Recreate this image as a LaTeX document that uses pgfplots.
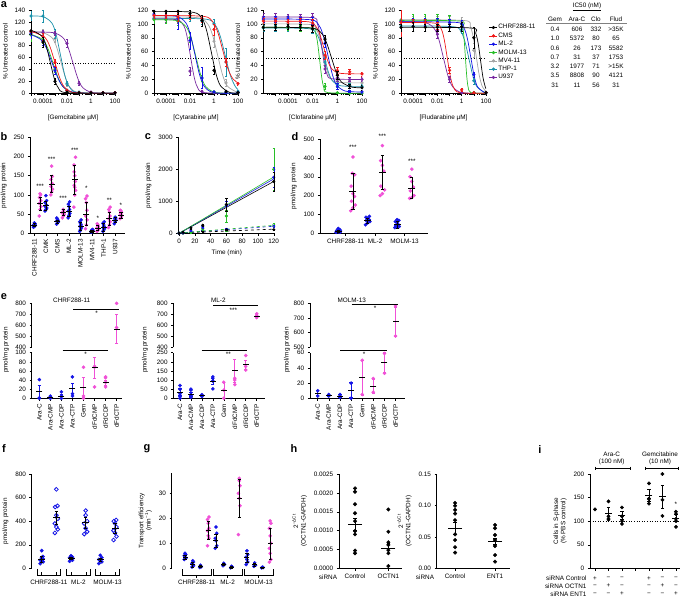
\documentclass[border=0pt]{standalone}
\usepackage{pgfplots}
\pgfplotsset{compat=1.18}
\usepackage{fontspec}
\setmainfont{Liberation Sans}
\newcommand{\fs}{\fontsize{6.4}{7.4}\selectfont}
\definecolor{cblack}{RGB}{0,0,0}
\definecolor{cred}{RGB}{240,25,25}
\definecolor{cblue}{RGB}{20,20,230}
\definecolor{cgreen}{RGB}{40,190,40}
\definecolor{cgray}{RGB}{165,165,165}
\definecolor{cteal}{RGB}{25,145,170}
\definecolor{cpurple}{RGB}{120,40,160}
\definecolor{cpink}{RGB}{240,80,215}
\pgfplotsset{
  base/.style={scale only axis, anchor=south west, axis x line*=bottom, axis y line*=left,
    tick align=outside, major tick length=2.2bp, minor tick length=1.3bp,
    every tick/.style={black, line width=0.45pt}, axis line style={line width=0.6pt},
    tick label style={font=\fs}, label style={font=\fs},
    /pgf/number format/assume math mode=true, /pgf/number format/1000 sep={},
    scaled ticks=false, clip mode=individual},
  cv/.style={line width=0.7pt, smooth, no markers},
  dp/.style={only marks, mark=*, mark size=1.4bp,
    /pgfplots/error bars/y dir=both, /pgfplots/error bars/y explicit,
    /pgfplots/error bars/error bar style={line width=0.45pt},
    /pgfplots/error bars/error mark options={rotate=90, mark size=1.2bp, line width=0.45pt}},
  ms/.style={only marks, mark=-, mark size=3bp, mark options={black, line width=0.7pt},
    /pgfplots/error bars/y dir=both, /pgfplots/error bars/y explicit,
    /pgfplots/error bars/error bar style={line width=0.6pt, #1},
    /pgfplots/error bars/error mark options={rotate=90, mark size=1.6bp, line width=0.6pt, #1}},
  ms/.default=black,
  pt/.style={only marks, mark=*, mark size=1.6bp, #1},
  logminor/.style={minor xtick={-5.699,-5.523,-5.398,-5.301,-5.222,-5.155,-5.097,-5.046,
    -4.699,-4.523,-4.398,-4.301,-4.222,-4.155,-4.097,-4.046,
    -3.699,-3.523,-3.398,-3.301,-3.222,-3.155,-3.097,-3.046,
    -2.699,-2.523,-2.398,-2.301,-2.222,-2.155,-2.097,-2.046,
    -1.699,-1.523,-1.398,-1.301,-1.222,-1.155,-1.097,-1.046,
    -0.699,-0.523,-0.398,-0.301,-0.222,-0.155,-0.097,-0.046,
    0.301,0.477,0.602,0.699,0.778,0.845,0.903,0.954,
    1.301,1.477,1.602,1.699,1.778,1.845,1.903,1.954}},
  apanel/.style={base, width=84bp, height=83.3bp, ymin=0, xmax=2,
    xtick={-4,-2,0,2}, xticklabels={0.0001,0.01,1,100},
    extra x ticks={-5,-3,-1,1}, extra x tick labels={}, logminor,
    ylabel={\% Untreated control}},
  legend image code/.code={\draw[#1, mark repeat=2, mark phase=2] plot coordinates {(0bp,0bp)(4bp,0bp)(8bp,0bp)};},
}
\begin{document}
\begin{tikzpicture}
\useasboundingbox (0,0) rectangle (685bp,-599bp);
% ---------------- a1 Gemcitabine
\begin{axis}[apanel, at={(31bp,-93.3bp)}, xmin=-5, ymax=140, ytick={0,20,...,140}, xlabel={[Gemcitabine µM]}]
\addplot[black, dotted, line width=0.6pt] coordinates {(-5,50)(2,50)};
\addplot[cv, cgray] coordinates {(-5,103)(-4.028,102)(-3.259,93.6)(-2.875,78.3)(-2.49,51.5)(-2.105,24.7)(-1.721,9.4)(-0.952,1.0)(2,0)};
\addplot[cv, cteal] coordinates {(-5,130)(-3.979,128.7)(-3.264,118.2)(-2.907,98.8)(-2.55,65)(-2.193,31.2)(-1.836,11.8)(-1.121,1.3)(2,0)};
\addplot[cv, cpurple] coordinates {(-5,103)(-3.177,102)(-2.343,93.6)(-1.927,78.3)(-1.51,51.5)(-1.093,24.7)(-0.677,9.4)(0.157,1.0)(2,0)};
\addplot[cv, cgreen] coordinates {(-5,99)(-4.059,90.9)(-3.605,76)(-3.15,50)(-2.695,24)(-2.241,9.1)(-1.332,1.0)(2,0)};
\addplot[cv, cblue] coordinates {(-5,98.4)(-4.22,90.9)(-3.72,76)(-3.22,50)(-2.72,24)(-2.22,9.1)(-1.22,1.0)(2,0)};
\addplot[cv, cred] coordinates {(-5,103)(-4.667,102)(-3.833,93.6)(-3.417,78.3)(-3.0,51.5)(-2.583,24.7)(-2.167,9.4)(-1.333,1.0)(2,0)};
\addplot[cv, cblack] coordinates {(-5,105)(-4.733,104)(-4.067,95.4)(-3.733,79.8)(-3.40,52.5)(-3.067,25.2)(-2.733,9.6)(-2.067,1.05)(2,0)};
\addplot[dp, cgray] coordinates {(-5,103)+-(0,5) (-4,103)+-(0,4) (-3,92)+-(0,6) (-2,15)+-(0,3) (-1,1)+-(0,1) (0,1)+-(0,1) (1,1)+-(0,1) (2,1)+-(0,1)};
\addplot[dp, cteal] coordinates {(-5,130)+-(0,8) (-4,130)+-(0,10) (-3,100)+-(0,8) (-2,17)+-(0,3) (-1,2)+-(0,1) (0,1)+-(0,1) (1,1)+-(0,1) (2,1)+-(0,1)};
\addplot[dp, cpurple] coordinates {(-5,103)+-(0,5) (-4,102)+-(0,4) (-3,101)+-(0,4) (-2,84)+-(0,7) (-1,17)+-(0,4) (0,2)+-(0,1) (1,1)+-(0,1) (2,1)+-(0,1)};
\addplot[dp, cgreen] coordinates {(-5,98)+-(0,10) (-4,90)+-(0,6) (-3,40)+-(0,5) (-2,5)+-(0,2) (-1,1)+-(0,1) (0,1)+-(0,1) (1,1)+-(0,1) (2,1)+-(0,1)};
\addplot[dp, cblue] coordinates {(-5,100)+-(0,8) (-4,88)+-(0,7) (-3,38)+-(0,6) (-2,5)+-(0,2) (-1,1)+-(0,1) (0,1)+-(0,1) (1,1)+-(0,1) (2,1)+-(0,1)};
\addplot[dp, cred] coordinates {(-5,104)+-(0,5) (-4,95)+-(0,6) (-3,52)+-(0,6) (-2,5)+-(0,2) (-1,1)+-(0,1) (0,1)+-(0,1) (1,1)+-(0,1) (2,1)+-(0,1)};
\addplot[dp, cblack] coordinates {(-5,105)+-(0,6) (-4,86)+-(0,8) (-3,20)+-(0,5) (-2,2)+-(0,1) (-1,1)+-(0,1) (0,1)+-(0,1) (1,1)+-(0,1) (2,1)+-(0,1)};
\end{axis}
% ---------------- a2 Cytarabine
\begin{axis}[apanel, at={(154bp,-93.3bp)}, xmin=-5, ymax=120, ytick={0,20,...,120}, xlabel={[Cytarabine µM]}]
\addplot[black, dotted, line width=0.6pt] coordinates {(-5,50)(2,50)};
\addplot[cv, cgray] coordinates {(-5,110)(-1.367,108.9)(-0.533,100)(-0.117,83.6)(0.30,55)(0.717,26.4)(1.133,10)(1.967,1.1)};
\addplot[cv, cteal] coordinates {(-5,108)(-0.727,106.9)(0.107,98.2)(0.523,82.1)(0.94,54)(1.357,25.9)(1.773,9.8)(2,5.5)};
\addplot[cv, cpurple] coordinates {(-5,107)(-3.071,105.9)(-2.516,97.3)(-2.238,81.3)(-1.96,53.5)(-1.682,25.7)(-1.404,9.7)(-0.849,1.1)(2,0)};
\addplot[cv, cgreen] coordinates {(-5,106)(-3.177,104.9)(-2.343,96.4)(-1.927,80.6)(-1.51,53)(-1.093,25.4)(-0.677,9.6)(0.157,1.1)(2,0)};
\addplot[cv, cblue] coordinates {(-5,112)(-3.128,110.9)(-2.359,101.8)(-1.975,85.1)(-1.59,56)(-1.205,26.9)(-0.821,10.2)(-0.052,1.1)(2,0)};
\addplot[cv, cred] coordinates {(-5,112)(-0.937,111)(-0.103,102.9)(0.313,88)(0.73,62)(1.147,36)(1.563,21.1)(2,14.9)};
\addplot[cv, cblack] coordinates {(-5,118)(-1.758,116.8)(-0.989,107.3)(-0.605,89.7)(-0.22,59)(0.165,28.3)(0.549,10.7)(1.318,1.2)(2,0.2)};
\addplot[dp, cgray] coordinates {(-5,110)+-(0,4) (-4,110)+-(0,4) (-3,108)+-(0,4) (-2,110)+-(0,4) (-1,105)+-(0,5) (0,75)+-(0,8) (1,15)+-(0,5) (2,1)+-(0,1)};
\addplot[dp, cteal] coordinates {(-5,108)+-(0,4) (-4,107)+-(0,4) (-3,106)+-(0,4) (-2,108)+-(0,4) (-1,104)+-(0,5) (0,100)+-(0,6) (1,45)+-(0,20) (2,3)+-(0,2)};
\addplot[dp, cpurple] coordinates {(-5,107)+-(0,4) (-4,106)+-(0,4) (-3,105)+-(0,4) (-2,32)+-(0,6) (-1,3)+-(0,2) (0,1)+-(0,1) (1,1)+-(0,1) (2,1)+-(0,1)};
\addplot[dp, cgreen] coordinates {(-5,106)+-(0,5) (-4,106)+-(0,5) (-3,104)+-(0,6) (-2,80)+-(0,6) (-1,22)+-(0,4) (0,2)+-(0,1) (1,1)+-(0,1) (2,1)+-(0,1)};
\addplot[dp, cblue] coordinates {(-5,114)+-(0,4) (-4,112)+-(0,4) (-3,108)+-(0,15) (-2,76)+-(0,12) (-1,22)+-(0,15) (0,2)+-(0,1) (1,1)+-(0,1) (2,1)+-(0,1)};
\addplot[dp, cred] coordinates {(-5,112)+-(0,4) (-4,112)+-(0,4) (-3,110)+-(0,6) (-2,112)+-(0,5) (-1,108)+-(0,5) (0,92)+-(0,8) (1,45)+-(0,6) (2,14)+-(0,2)};
\addplot[dp, cblack] coordinates {(-5,118)+-(0,3) (-4,118)+-(0,3) (-3,118)+-(0,4) (-2,115)+-(0,5) (-1,105)+-(0,8) (0,33)+-(0,6) (1,3)+-(0,2) (2,1)+-(0,1)};
\end{axis}
% ---------------- a3 Clofarabine
\begin{axis}[apanel, at={(263.3bp,-93.3bp)}, width=98.7bp, xmin=-6, ymax=120, ytick={0,20,...,120}, xlabel={[Clofarabine µM]}]
\addplot[black, dotted, line width=0.6pt] coordinates {(-6,50)(2,50)};
\addplot[cv, cgray] coordinates {(-6,100)(-2.261,99.2)(-1.706,92.3)(-1.428,79.6)(-1.15,57.5)(-0.872,35.4)(-0.594,22.7)(-0.039,15.9)(2,15)};
\addplot[cv, cteal] coordinates {(-6,94)(-2.383,93.2)(-1.717,86.4)(-1.383,73.8)(-1.05,52)(-0.717,30.2)(-0.383,17.6)(0.283,10.8)(2,10)};
\addplot[cv, cpurple] coordinates {(-6,110)(-2.05,109.1)(-1.65,101.8)(-1.45,88.4)(-1.25,65)(-1.05,41.6)(-0.85,28.2)(-0.45,20.9)(2,20)};
\addplot[cv, cgreen] coordinates {(-6,95)(-2.097,94.1)(-1.763,86.4)(-1.597,72.2)(-1.43,47.5)(-1.263,22.8)(-1.097,8.6)(-0.763,1.0)(2,0)};
\addplot[cv, cblue] coordinates {(-6,107)(-2.189,106)(-1.474,97.4)(-1.117,81.8)(-0.76,54.5)(-0.403,27.2)(-0.046,11.6)(0.669,3.1)(2,2)};
\addplot[cv, cred] coordinates {(-6,104)(-2.433,103.2)(-1.767,97.1)(-1.433,85.8)(-1.10,66)(-0.767,46.2)(-0.433,34.9)(0.233,28.8)(2,28)};
\addplot[cv, cblack] coordinates {(-6,95)(-2.147,94.1)(-1.313,87.1)(-0.897,74.1)(-0.48,51.5)(-0.063,28.9)(0.353,15.9)(1.187,8.9)(2,8)};
\addplot[dp, cgray] coordinates {(-6,100)+-(0,4) (-5,100)+-(0,4) (-4,100)+-(0,4) (-3,100)+-(0,4) (-2,98)+-(0,5) (-1,40)+-(0,6) (0,18)+-(0,4) (1,16)+-(0,3) (2,15)+-(0,3)};
\addplot[dp, cteal] coordinates {(-6,94)+-(0,4) (-5,94)+-(0,4) (-4,94)+-(0,4) (-3,94)+-(0,4) (-2,92)+-(0,5) (-1,45)+-(0,6) (0,13)+-(0,4) (1,11)+-(0,3) (2,10)+-(0,3)};
\addplot[dp, cpurple] coordinates {(-6,110)+-(0,5) (-5,110)+-(0,5) (-4,110)+-(0,4) (-3,110)+-(0,4) (-2,110)+-(0,5) (-1,35)+-(0,6) (0,22)+-(0,4) (1,20)+-(0,3) (2,20)+-(0,3)};
\addplot[dp, cgreen] coordinates {(-6,95)+-(0,4) (-5,95)+-(0,4) (-4,95)+-(0,4) (-3,94)+-(0,4) (-2,93)+-(0,5) (-1,10)+-(0,4) (0,1)+-(0,1) (1,0)+-(0,1) (2,0)+-(0,1)};
\addplot[dp, cblue] coordinates {(-6,107)+-(0,4) (-5,107)+-(0,4) (-4,107)+-(0,4) (-3,106)+-(0,4) (-2,105)+-(0,5) (-1,72)+-(0,6) (0,10)+-(0,4) (1,3)+-(0,2) (2,2)+-(0,2)};
\addplot[dp, cred] coordinates {(-6,104)+-(0,4) (-5,104)+-(0,4) (-4,103)+-(0,4) (-3,104)+-(0,4) (-2,101)+-(0,5) (-1,55)+-(0,6) (0,33)+-(0,5) (1,31)+-(0,4) (2,28)+-(0,3)};
\addplot[dp, cblack] coordinates {(-6,95)+-(0,4) (-5,95)+-(0,4) (-4,96)+-(0,4) (-3,95)+-(0,4) (-2,93)+-(0,5) (-1,78)+-(0,6) (0,26)+-(0,6) (1,10)+-(0,3) (2,8)+-(0,3)};
\end{axis}
% ---------------- a4 Fludarabine
\begin{axis}[apanel, at={(401bp,-93.3bp)}, width=85bp, xmin=-5, ymax=120, ytick={0,20,...,120}, xlabel={[Fludarabine µM]},
  legend style={at={(1.035,0.835)}, anchor=north west, draw=none, fill=none, font=\fs, inner sep=0pt, row sep=1.2bp, nodes={inner sep=0.6bp}}, legend cell align=left]
\addlegendimage{cblack, mark=*, mark size=1.3bp, line width=0.6pt}\addlegendentry{CHRF288-11}
\addlegendimage{cred, mark=*, mark size=1.3bp, line width=0.6pt}\addlegendentry{CMS}
\addlegendimage{cblue, mark=*, mark size=1.3bp, line width=0.6pt}\addlegendentry{ML-2}
\addlegendimage{cgreen, mark=*, mark size=1.3bp, line width=0.6pt}\addlegendentry{MOLM-13}
\addlegendimage{cgray, mark=*, mark size=1.3bp, line width=0.6pt}\addlegendentry{MV4-11}
\addlegendimage{cteal, mark=*, mark size=1.3bp, line width=0.6pt}\addlegendentry{THP-1}
\addlegendimage{cpurple, mark=*, mark size=1.3bp, line width=0.6pt}\addlegendentry{U937}
\addplot[black, dotted, line width=0.6pt] coordinates {(-5,50)(2,50)};
\addplot[cv, cgray] coordinates {(-5,106)(0.2,104.9)(0.7,96.4)(0.95,80.6)(1.2,53)(1.45,25.4)(1.7,9.6)(2,2.6)};
\addplot[cv, cteal] coordinates {(-5,97)(-0.723,96)(-0.057,88.2)(0.277,73.7)(0.61,48.5)(0.943,23.3)(1.277,8.8)(1.943,1.0)};
\addplot[cv, cpurple] coordinates {(-5,103)(-3.048,102)(-2.279,93.6)(-1.895,78.3)(-1.51,51.5)(-1.125,24.7)(-0.741,9.4)(0.028,1.0)(2,0)};
\addplot[cv, cgreen] coordinates {(-5,105)(-0.144,104)(0.078,95.4)(0.189,79.8)(0.30,52.5)(0.411,25.2)(0.522,9.6)(0.744,1.05)(2,0)};
\addplot[cv, cblue] coordinates {(-5,103)(-0.361,102)(0.194,93.6)(0.472,78.3)(0.75,51.5)(1.028,24.7)(1.306,9.4)(1.861,1.0)(2,0.6)};
\addplot[cv, cred] coordinates {(-5,102)(-2.19,101)(-1.69,92.7)(-1.44,77.5)(-1.19,51)(-0.94,24.5)(-0.69,9.3)(-0.19,1.0)(2,0)};
\addplot[cv, cblack] coordinates {(-5,95)(0.75,94.1)(1.15,86.4)(1.35,72.2)(1.55,47.5)(1.75,22.8)(1.95,8.6)(2,6.7)};
\addplot[dp, cgray] coordinates {(-5,106)+-(0,5) (-4,106)+-(0,5) (-3,106)+-(0,5) (-2,106)+-(0,5) (-1,106)+-(0,5) (0,104)+-(0,6) (1,62)+-(0,10) (2,1)+-(0,1)};
\addplot[dp, cteal] coordinates {(-5,97)+-(0,6) (-4,96)+-(0,6) (-3,96)+-(0,6) (-2,96)+-(0,6) (-1,96)+-(0,6) (0,92)+-(0,6) (1,18)+-(0,5) (2,1)+-(0,1)};
\addplot[dp, cpurple] coordinates {(-5,103)+-(0,5) (-4,103)+-(0,5) (-3,103)+-(0,5) (-2,85)+-(0,6) (-1,20)+-(0,4) (0,1)+-(0,1) (1,1)+-(0,1) (2,1)+-(0,1)};
\addplot[dp, cgreen] coordinates {(-5,105)+-(0,5) (-4,106)+-(0,8) (-3,106)+-(0,8) (-2,106)+-(0,8) (-1,105)+-(0,8) (0,100)+-(0,5) (1,1)+-(0,1) (2,1)+-(0,1)};
\addplot[dp, cblue] coordinates {(-5,103)+-(0,5) (-4,103)+-(0,5) (-3,103)+-(0,5) (-2,103)+-(0,5) (-1,102)+-(0,5) (0,100)+-(0,5) (1,27)+-(0,4) (2,1)+-(0,1)};
\addplot[dp, cred] coordinates {(-5,102)+-(0,20) (-4,102)+-(0,5) (-3,102)+-(0,5) (-2,98)+-(0,5) (-1,33)+-(0,4) (0,5)+-(0,2) (1,1)+-(0,1) (2,1)+-(0,1)};
\addplot[dp, cblack] coordinates {(-5,95)+-(0,5) (-4,96)+-(0,6) (-3,95)+-(0,5) (-2,95)+-(0,5) (-1,95)+-(0,5) (0,96)+-(0,6) (1,80)+-(0,15) (2,1)+-(0,1)};
\end{axis}
% ---------------- b
\begin{axis}[base, at={(30bp,-233.3bp)}, width=95bp, height=96bp, xmin=-0.75, xmax=15.7, ymin=0, ymax=250, ytick={0,50,...,250},
  xtick={0,2,...,14}, xticklabels={CHRF288-11,CMK,CMS,ML-2,MOLM-13,MV4-11,THP-1,U937}, x tick label style={rotate=90, anchor=east}, ylabel={pmol/mg protein}]
\addplot[pt=cblue] coordinates {(-0.15,16)(0,18)(0.15,20)(-0.1,22)(0.1,24)(0,27)(-0.12,19)(0.12,25)
 (1.85,58)(2,62)(2.15,66)(1.9,70)(2.1,74)(1.88,80)(2.12,85)(2,98)
 (3.85,24)(4,27)(4.15,30)(3.9,32)(4.1,34)(4,37)(3.88,40)(4.12,29)
 (5.85,40)(6,47)(6.15,52)(5.9,58)(6.1,62)(6,70)(5.88,76)(6.12,82)
 (7.85,5)(8,10)(8.15,14)(7.9,18)(8.1,22)(8,26)(7.88,30)(8.12,35)
 (9.85,3)(10,5)(10.15,6)(9.9,8)(10.1,10)(10,4)
 (11.85,5)(12,8)(12.15,12)(11.9,15)(12.1,18)(12,22)(11.88,26)(12.12,30)
 (13.85,25)(14,30)(14.15,34)(13.9,38)(14.1,40)(14,42)};
\addplot[pt=cpink] coordinates {(0.85,45)(1,62)(1.15,70)(0.88,78)(1.12,85)(0.9,93)(1.1,100)(1,103)
 (2.85,100)(3,108)(3.15,115)(2.9,122)(3.1,130)(2.88,140)(3.12,148)(3,175)
 (4.85,40)(5,45)(5.15,50)(4.9,55)(5.1,58)(5,62)(4.88,52)(5.12,48)
 (6.85,68)(7,100)(7.15,112)(6.9,125)(7.1,135)(7,150)(6.88,178)(7.12,198)(7,120)(6.9,160)
 (8.85,12)(9,22)(9.15,35)(8.9,45)(9.1,60)(9,80)(8.88,90)(9.12,97)
 (10.85,5)(11,8)(11.15,12)(10.9,15)(11.1,18)(11,22)(10.9,25)
 (12.85,15)(13,22)(13.15,30)(12.9,38)(13.1,45)(13,55)(12.88,62)(13.12,68)
 (14.85,38)(15,42)(15.15,46)(14.9,50)(15.1,54)(15,58)(14.88,60)};
\addplot[ms] coordinates {(0,22)+-(0,5) (1,78)+-(0,17) (2,72)+-(0,12) (3,128)+-(0,22) (4,30)+-(0,5) (5,55)+-(0,8) (6,58)+-(0,13) (7,140)+-(0,38) (8,18)+-(0,10) (9,50)+-(0,30) (10,6)+-(0,3) (11,14)+-(0,7) (12,15)+-(0,10) (13,38)+-(0,18) (14,35)+-(0,7) (15,48)+-(0,8)};
\node[font=\fs] at (axis cs:1,122) {***};
\node[font=\fs] at (axis cs:3,193) {***};
\node[font=\fs] at (axis cs:5,92) {***};
\node[font=\fs] at (axis cs:7,217) {***};
\node[font=\fs] at (axis cs:9,118) {*};
\node[font=\fs] at (axis cs:11,40) {*};
\node[font=\fs] at (axis cs:13,87) {**};
\node[font=\fs] at (axis cs:15,72) {*};
\end{axis}
% ---------------- c
\begin{axis}[base, at={(178.3bp,-233.3bp)}, width=97bp, height=96bp, xmin=-1, xmax=122, ymin=0, ymax=3000,
  xtick={0,20,...,120}, ytick={0,1000,2000,3000}, xlabel={Time (min)}, ylabel={pmol/mg protein}]
\addplot[black, line width=0.6pt] coordinates {(0,0)(120,1620)};
\addplot[cblue, line width=0.6pt] coordinates {(0,0)(120,1700)};
\addplot[cgreen, line width=0.6pt] coordinates {(0,0)(120,1760)};
\addplot[black, dashed, line width=0.6pt] coordinates {(0,10)(120,130)};
\addplot[cblue, dashed, line width=0.6pt] coordinates {(0,10)(120,220)};
\addplot[cgreen, dashed, line width=0.6pt] coordinates {(0,10)(120,250)};
\addplot[dp, mark=o, cgreen] coordinates {(0,0)+-(0,10) (5,10)+-(0,10) (15,30)+-(0,20) (30,100)+-(0,30) (60,110)+-(0,30) (120,260)+-(0,40)};
\addplot[dp, mark=o, cblue] coordinates {(0,0)+-(0,10) (5,10)+-(0,10) (15,40)+-(0,20) (30,80)+-(0,30) (60,120)+-(0,30) (120,220)+-(0,30)};
\addplot[dp, mark=o, black] coordinates {(0,0)+-(0,10) (5,10)+-(0,10) (15,30)+-(0,20) (30,60)+-(0,20) (60,110)+-(0,20) (120,120)+-(0,20)};
\addplot[dp, cgreen] coordinates {(0,0)+-(0,10) (5,20)+-(0,10) (15,30)+-(0,20) (30,150)+-(0,40) (60,540)+-(0,180) (120,2000)+-(0,650)};
\addplot[dp, cblue] coordinates {(0,0)+-(0,10) (5,20)+-(0,10) (15,100)+-(0,30) (30,200)+-(0,40) (60,850)+-(0,150) (120,1750)+-(0,300)};
\addplot[dp, black] coordinates {(0,0)+-(0,10) (5,30)+-(0,10) (15,170)+-(0,30) (30,250)+-(0,40) (60,900)+-(0,200) (120,1620)+-(0,300)};
\end{axis}
% ---------------- d
\begin{axis}[base, at={(320bp,-233.3bp)}, width=108bp, height=94.3bp, xmin=-1.24, xmax=6.1, ymin=0, ymax=500, ytick={0,100,...,500},
  xtick={0.5,2.5,4.5}, xticklabels={CHRF288-11,ML-2,MOLM-13}, ylabel={pmol/mg protein}]
\addplot[pt=cblue] coordinates {(-0.15,5)(0,8)(0.15,12)(-0.1,15)(0.1,20)(0,25)(0.12,6)(-0.12,10)
 (1.85,45)(2,55)(2.15,62)(1.9,68)(2.1,72)(2,80)(1.88,85)(2.12,90)
 (3.85,30)(4,33)(4.15,36)(3.9,40)(4.1,45)(4,55)(3.88,62)(4.12,68)(4,72)};
\addplot[pt=cpink] coordinates {(0.85,120)(1,135)(1.15,150)(0.9,170)(1.1,195)(1,210)(0.88,250)(1.12,310)(0.95,318)(1,405)
 (2.85,200)(3,210)(3.15,230)(2.9,250)(3.1,330)(3,360)(2.88,385)(3,465)
 (4.85,185)(5,190)(5.15,200)(4.9,225)(5.1,245)(5,275)(4.88,300)(5,340)};
\addplot[ms, mark size=3.5bp] coordinates {(0,10)+-(0,6) (1,222)+-(0,95) (2,68)+-(0,13) (3,322)+-(0,90) (4,45)+-(0,17) (5,240)+-(0,56)};
\node[font=\fs] at (axis cs:1,455) {***};
\node[font=\fs] at (axis cs:3,513) {***};
\node[font=\fs] at (axis cs:5,380) {***};
\end{axis}
% ---------------- e1
\begin{axis}[base, at={(31.7bp,-347.3bp)}, width=90bp, height=44bp, xmin=-0.69, xmax=7.46, ymin=400, ymax=800, ytick={400,500,...,800}, axis x line=none, xtick=\empty]
\addplot[pt=cpink] coordinates {(7,800)(7,580)};
\addplot[ms=cpink] coordinates {(7,567)+-(0,135)};
\end{axis}
\begin{axis}[base, at={(31.7bp,-398.3bp)}, width=90bp, height=45.6bp, xmin=-0.69, xmax=7.46, ymin=0, ymax=100, ytick={0,20,...,100},
  xtick={0,...,7}, xticklabels={Ara-C,Ara-CMP,Ara-CDP,Ara-CTP,Gem,dFdCMP,dFdCDP,dFdCTP}, x tick label style={rotate=90, anchor=east}]
\addplot[pt=cblue] coordinates {(0,0)(0,1)(0,41)(1,0)(1,3)(1,5)(2,0)(2,5)(2,14)(3,5)(3,10)(3,47)};
\addplot[pt=cpink] coordinates {(4,0)(4,5)(4,68)(5,25)(5,68)(5,70)(6,25)(6,35)(6,45)(6,47)};
\addplot[ms=cblue] coordinates {(0,15)+-(0,13) (1,2)+-(0,2) (2,5)+-(0,4) (3,22)+-(0,12)};
\addplot[ms=cpink] coordinates {(4,25)+-(0,22) (5,67)+-(0,23) (6,34)+-(0,6)};
\end{axis}
% ---------------- e2
\begin{axis}[base, at={(173.3bp,-347.3bp)}, width=91.7bp, height=44bp, xmin=-0.61, xmax=7.76, ymin=400, ymax=800, ytick={400,500,...,800}, axis x line=none, xtick=\empty]
\addplot[pt=cpink] coordinates {(7,670)(7,690)(7,705)};
\addplot[ms=cpink] coordinates {(7,685)+-(0,10)};
\end{axis}
\begin{axis}[base, at={(173.3bp,-398.3bp)}, width=91.7bp, height=45.6bp, xmin=-0.61, xmax=7.76, ymin=0, ymax=250, ytick={0,50,...,250},
  xtick={0,...,7}, xticklabels={Ara-C,Ara-CMP,Ara-CDP,Ara-CTP,Gem,dFdCMP,dFdCDP,dFdCTP}, x tick label style={rotate=90, anchor=east}]
\addplot[pt=cblue] coordinates {(0,0)(0,10)(0,25)(0,50)(0,70)(1,5)(1,15)(1,20)(1,45)(1,50)(2,10)(2,15)(2,20)(3,52)(3,95)(3,110)(3,118)};
\addplot[pt=cpink] coordinates {(4,0)(4,45)(4,88)(5,75)(5,100)(5,110)(6,155)(6,175)(6,235)};
\addplot[ms=cblue] coordinates {(0,35)+-(0,18) (1,22)+-(0,13) (2,16)+-(0,3) (3,93)+-(0,15)};
\addplot[ms=cpink] coordinates {(4,45)+-(0,43) (5,152)+-(0,62) (6,185)+-(0,25)};
\end{axis}
% ---------------- e3
\begin{axis}[base, at={(310bp,-347.3bp)}, width=95bp, height=44bp, xmin=-0.69, xmax=7.85, ymin=500, ymax=800, ytick={500,600,700,800}, axis x line=none, xtick=\empty]
\addplot[pt=cpink] coordinates {(7,782)(7,577)};
\addplot[ms=cpink] coordinates {(7,675)+-(0,100)};
\end{axis}
\begin{axis}[base, at={(310bp,-398.3bp)}, width=95bp, height=45.6bp, xmin=-0.69, xmax=7.85, ymin=0, ymax=60, ytick={0,20,40,60},
  xtick={0,...,7}, xticklabels={Ara-C,Ara-CMP,Ara-CDP,Ara-CTP,Gem,dFdCMP,dFdCDP,dFdCTP}, x tick label style={rotate=90, anchor=east}]
\addplot[pt=cblue] coordinates {(0,3)(0,10)(1,3)(1,4)(1,5)(2,1)(2,3)(2,5)(3,0)(3,20)};
\addplot[pt=cpink] coordinates {(4,5)(4,50)(5,8)(5,26)(6,33)(6,59)};
\addplot[ms=cblue] coordinates {(0,7)+-(0,3) (1,4)+-(0,1) (2,3)+-(0,2) (3,11)+-(0,10)};
\addplot[ms=cpink] coordinates {(4,27)+-(0,23) (5,16)+-(0,9) (6,47)+-(0,13)};
\end{axis}
% ---------------- f
\begin{axis}[base, at={(31.7bp,-568.3bp)}, width=88.3bp, height=94.3bp, xmin=-0.68, xmax=5.34, ymin=0, ymax=800, ytick={0,200,...,800},
  axis x line=none, xtick=\empty, ylabel={pmol/mg protein}]
\addplot[pt=cblue, mark size=1.7bp] coordinates {(-0.1,40)(0.1,55)(0,65)(-0.1,70)(0.1,80)(0,90)(0.08,100)(0,150)
 (1.9,60)(2.1,70)(2,80)(1.9,90)(2.1,95)(2,105)
 (3.9,40)(4.1,55)(4,65)(3.9,75)(4.1,90)(4,110)};
\addplot[only marks, mark=o, mark size=1.9bp, cblue, mark options={line width=0.8pt}] coordinates {(0.9,300)(1.1,330)(1,350)(0.9,380)(1.1,420)(1,450)(0.92,520)(1.08,530)(1,670)
 (2.9,290)(3.1,310)(3,340)(2.9,380)(3.1,400)(3,450)(3,490)
 (4.9,240)(5.1,270)(5,300)(4.9,320)(5.1,350)(5,380)(4.92,400)(5.08,410)};
\addplot[ms, mark size=3.5bp] coordinates {(0,80)+-(0,25) (1,430)+-(0,55) (2,85)+-(0,10) (3,388)+-(0,45) (4,72)+-(0,15) (5,340)+-(0,40)};
\end{axis}
% ---------------- g
\begin{axis}[base, at={(171.7bp,-568.3bp)}, width=100bp, height=95bp, xmin=-1.72, xmax=11.2, ymin=0, ymax=38, ytick={0,10,20,30},
  axis x line=none, xtick=\empty, ylabel={Transport efficiency\\(min\textsuperscript{−1})}, ylabel style={align=center}]
\addplot[pt=cblue] coordinates {(-0.1,3.5)(0.1,4)(0,4.5)(-0.1,5)(0.1,5.5)(0,6)
 (0.9,0.5)(1.1,1)(1,1.5)(0.9,2)(1.1,2.5)(1,3)
 (1.9,0.3)(2.1,0.6)(2,0.9)(2,1.2)
 (3.9,8)(4.1,9)(4,11)(3.9,12)(4.1,14)(4,16.5)
 (4.9,1)(5.1,1.5)(5,2)
 (5.9,0.2)(6.1,0.5)(6,0.8)
 (7.9,1.5)(8.1,2.5)(8,3.5)(7.9,4.5)(8.1,5.5)(8,7)
 (8.9,0.8)(9.1,1.2)(9,1.6)(9,2.2)
 (9.9,0.2)(10.1,0.3)(10,0.5)};
\addplot[pt=cpink] coordinates {(2.9,9)(3.1,12)(3,13)(2.9,15)(3.1,16)(3,18)(2.9,19.5)(3.1,20.5)
 (6.9,13.5)(7.1,25)(7,28)(6.9,30)(7.1,33)(7,35)(7,36)
 (10.9,2.5)(11.1,3.5)(11,6)(10.9,8)(11.1,10)(11,13)(10.9,16)(11.1,18)(11,19)};
\addplot[ms, mark size=2.5bp] coordinates {(0,4.5)+-(0,0.8) (1,1.5)+-(0,1) (2,0.7)+-(0,0.4) (3,15.3)+-(0,3.5) (4,11)+-(0,2.5) (5,1.7)+-(0,0.4) (6,0.5)+-(0,0.3) (7,28)+-(0,7.5) (8,4.2)+-(0,1.9) (9,1.5)+-(0,0.5) (10,0.3)+-(0,0.2) (11,9.8)+-(0,6.3)};
\end{axis}
% ---------------- h1
\begin{axis}[base, at={(339bp,-568.3bp)}, width=62.7bp, height=94.3bp, xmin=-0.48, xmax=1.4, ymin=0, ymax=0.0025,
  ytick={0,0.0005,0.001,0.0015,0.002,0.0025}, yticklabel style={/pgf/number format/.cd, fixed, fixed zerofill, precision=4},
  xtick={0,1}, xticklabels={Control,OCTN1}, ylabel={2\textsuperscript{−ΔCt}\\(OCTN1-GAPDH)}, ylabel style={align=center}]
\addplot[pt=black, mark size=1.8bp] coordinates {(0,0.00212)(0,0.00203)(0,0.0017)(0,0.00146)(0,0.00125)(0,0.00099)(0,0.0009)(0,0.00047)(0,0.0004)
 (1,0.00156)(1,0.00097)(1,0.00069)(1,0.00062)(1,0.00048)(1,0.0004)(1,0.00006)};
\addplot[ms, mark size=7bp] coordinates {(0,0.00117)+-(0,0.00016) (1,0.00053)+-(0,0.00012)};
\end{axis}
% ---------------- h2
\begin{axis}[base, at={(436.7bp,-568.3bp)}, width=73.3bp, height=94.3bp, xmin=-0.46, xmax=1.375, ymin=0, ymax=0.15,
  ytick={0,0.05,0.1,0.15}, yticklabel style={/pgf/number format/.cd, fixed, fixed zerofill, precision=2},
  xtick={0,1}, xticklabels={Control,ENT1}, ylabel={2\textsuperscript{−ΔCt}\\(OCTN1-GAPDH)}, ylabel style={align=center}]
\addplot[pt=black, mark size=1.8bp] coordinates {(0,0.104)(0,0.0995)(0,0.093)(0,0.087)(0,0.0765)(0,0.054)(0,0.045)(0,0.0335)(0,0.025)
 (1,0.069)(1,0.0637)(1,0.053)(1,0.045)(1,0.0355)(1,0.021)(1,0.0106)};
\addplot[ms, mark size=7bp] coordinates {(0,0.0637)+-(0,0.0095) (1,0.043)+-(0,0.0055)};
\end{axis}
% ---------------- i
\begin{axis}[base, at={(590bp,-568.3bp)}, width=90bp, height=94.3bp, xmin=0.63, xmax=7.3, ymin=0, ymax=200, ytick={0,50,...,200},
  xtick={1,...,7}, xticklabels={}, ylabel={Cells in S-phase\\(\% PBS control)}, ylabel style={align=center}]
\addplot[black, dotted, line width=0.6pt] coordinates {(0.63,100)(7.3,100)};
\addplot[pt=black, mark size=1.7bp] coordinates {(1,125)(2,142)(2,110)(2,105)(2,103)(3,129)(3,110)(3,100)(3,94)
 (5,180)(5,147)(5,148)(5,137)(6,200)(6,145)(6,111)(7,120)(7,115)(7,105)(7,100)(7,88)};
\addplot[ms, mark size=3.5bp] coordinates {(2,117)+-(0,12.5) (3,112)+-(0,9) (5,155)+-(0,12) (6,152)+-(0,25) (7,107)+-(0,8)};
\node[font=\fs] at (axis cs:7,136) {*};
\end{axis}
% ---------------- annotations
\begin{scope}[every node/.style={font=\fs, inner sep=0pt}]
\node at (587bp,-6.7bp) {\underline{IC50 (nM)}};
\node at (555bp,-19bp) {Gem}; \node at (577bp,-19bp) {Ara-C}; \node at (596bp,-19bp) {Clo}; \node at (616bp,-19bp) {Flud};
\draw[gray, line width=0.4pt] (546bp,-23.5bp) -- (627bp,-23.5bp);
\foreach \y/\g/\a/\c/\f in {29.3/0.4/606/332/>35K, 38.7/1.0/5372/80/65, 48/0.6/26/173/5582, 57.3/0.7/31/37/1753, 66.5/3.2/1977/71/>15K, 75.7/3.5/8808/90/4121, 85/31/11/56/31}{
  \node at (555bp,-\y bp) {\g}; \node at (577bp,-\y bp) {\a}; \node at (596bp,-\y bp) {\c}; \node at (616bp,-\y bp) {\f};}
\foreach \l/\x/\y in {a/4/5, b/4/137, c/148/137, d/295/137, e/4/296.7, f/4/449, g/147/449, h/294/449, i/540/450}{
  \node[font=\fontsize{11}{12}\selectfont\bfseries] at (\x bp,-\y bp) {\l};}
\node at (71.7bp,-300bp) {CHRF288-11};
\node at (218.3bp,-300bp) {ML-2};
\node at (351.7bp,-300bp) {MOLM-13};
\node[rotate=90] at (6bp,-350bp) {pmol/mg protein};
\node[rotate=90] at (145bp,-350bp) {pmol/mg protein};
\node[rotate=90] at (287bp,-350bp) {pmol/mg protein};
\draw[line width=0.7pt] (62.7bp,-350.3bp) -- (108.3bp,-350.3bp); \node at (85.5bp,-354.5bp) {*};
\draw[line width=0.7pt] (73.3bp,-309.3bp) -- (119bp,-309.3bp); \node at (96.7bp,-313.5bp) {*};
\draw[line width=0.7pt] (201.7bp,-350.3bp) -- (246.7bp,-350.3bp); \node at (228.3bp,-354.5bp) {**};
\draw[line width=0.7pt] (213.3bp,-305.7bp) -- (258.3bp,-305.7bp); \node at (233.3bp,-310bp) {***};
\draw[line width=0.7pt] (340bp,-350.3bp) -- (386.7bp,-350.3bp); \node at (364bp,-354.5bp) {*};
\draw[line width=0.7pt] (351.7bp,-304.3bp) -- (398.3bp,-304.3bp); \node at (375bp,-308.5bp) {*};
\foreach \a/\b/\t/\m in {37.3/60.3/CHRF288-11/48.8, 66.5/90.5/ML-2/78.5, 95.5/119.5/MOLM-13/107.5}{
  \draw[line width=0.6pt] (\a bp,-569bp) -- (\a bp,-575bp) -- (\b bp,-575bp) -- (\b bp,-569bp);
  \node at (\m bp,-582bp) {\t};}
\foreach \x in {41.7,56,71,86,100,115}{\draw[line width=0.6pt] (\x bp,-575bp) -- (\x bp,-571.5bp);}
\foreach \a/\b/\t/\m in {182/211/CHRF288-11/196.6, 213/242/ML-2/227.6, 244/273/MOLM-13/258.6}{
  \draw[line width=0.6pt] (\a bp,-569bp) -- (\a bp,-575bp) -- (\b bp,-575bp) -- (\b bp,-569bp);
  \node at (\m bp,-582bp) {\t};}
\foreach \x in {196.6,227.6,258.6}{\draw[line width=0.6pt] (\x bp,-575bp) -- (\x bp,-578bp);}
\node at (328bp,-577.3bp) {siRNA};
\node at (425bp,-577.3bp) {siRNA};
\node at (611.7bp,-454bp) {Ara-C}; \node at (611.7bp,-462.3bp) {(100 nM)};
\node at (660bp,-454bp) {Gemcitabine}; \node at (660bp,-462.3bp) {(10 nM)};
\draw[line width=0.6pt] (595bp,-468.3bp) -- (630bp,-468.3bp); \draw[line width=0.6pt] (595bp,-466.5bp) -- (595bp,-470.1bp); \draw[line width=0.6pt] (630bp,-466.5bp) -- (630bp,-470.1bp);
\draw[line width=0.6pt] (645bp,-468.3bp) -- (678bp,-468.3bp); \draw[line width=0.6pt] (645bp,-466.5bp) -- (645bp,-470.1bp); \draw[line width=0.6pt] (678bp,-466.5bp) -- (678bp,-470.1bp);
\node[anchor=east] at (586.7bp,-578.3bp) {siRNA Control};
\node[anchor=east] at (586.7bp,-586bp) {siRNA OCTN1};
\node[anchor=east] at (586.7bp,-594bp) {siRNA ENT1};
\foreach \x/\r/\s/\t in {595/+/−/−, 608.5/−/+/−, 622/−/−/+, 649/+/−/−, 662.5/−/+/−, 676/−/−/+}{
  \node at (\x bp,-578.3bp) {\r}; \node at (\x bp,-586bp) {\s}; \node at (\x bp,-594bp) {\t};}
\end{scope}
\end{tikzpicture}
\end{document}
